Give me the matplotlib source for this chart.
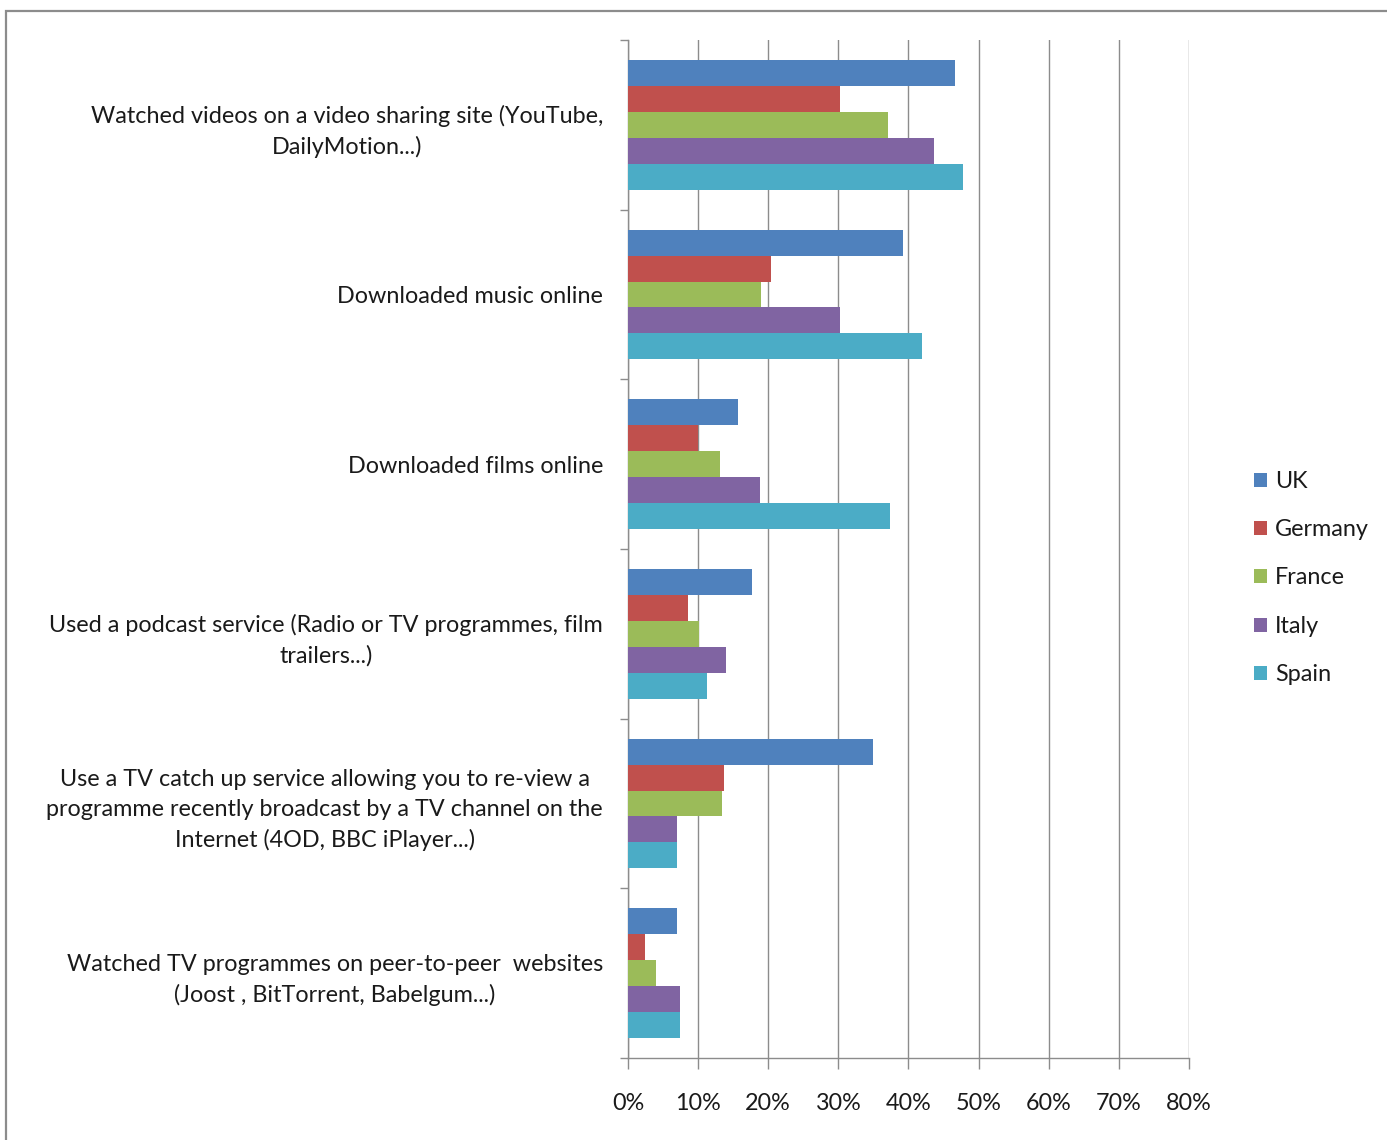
import matplotlib
matplotlib.use("Agg")
import matplotlib.pyplot as plt
import numpy as np
from matplotlib.patches import Rectangle
from matplotlib.ticker import FuncFormatter

plt.rcParams['font.family'] = ['Lato', 'DejaVu Sans']

categories = [
    "Watched videos on a video sharing site (YouTube,\nDailyMotion...)",
    "Downloaded music online",
    "Downloaded films online",
    "Used a podcast service (Radio or TV programmes, film\ntrailers...)",
    "Use a TV catch up service allowing you to re-view a\nprogramme recently broadcast by a TV channel on the\nInternet (4OD, BBC iPlayer...)",
    "Watched TV programmes on peer-to-peer  websites\n(Joost , BitTorrent, Babelgum...)",
]
countries = ["UK", "Germany", "France", "Italy", "Spain"]
colors = ["#4F81BD", "#C0504D", "#9BBB59", "#8064A2", "#4BACC6"]

uk      = [46.6, 39.2, 15.7, 17.7, 35.0, 7.0]
germany = [30.2, 20.4, 10.0, 8.6, 13.7, 2.4]
france  = [37.1, 19.0, 13.1, 10.1, 13.4, 4.0]
italy   = [43.6, 30.2, 18.8, 14.0, 7.0, 7.4]
spain   = [47.8, 41.9, 37.4, 11.3, 7.0, 7.4]
series = [uk, germany, france, italy, spain]

W, H = 1387, 1140
fs = 16.8
fig = plt.figure(figsize=(W / 100, H / 100), dpi=100)
fig.patch.set_facecolor("white")

# outer frame
fig.patches.append(Rectangle((6 / W, -0.1), 1.2, 1 - 11 / H + 0.1, transform=fig.transFigure,
                             fill=False, edgecolor="#8c8c8c", linewidth=1.6, zorder=0))

ax = fig.add_axes([628 / W, 1 - 1058 / H, (1189 - 628) / W, (1058 - 40) / H])

n = len(categories)
bar_h = 0.153
y = np.arange(n)
for i, (vals, c, name) in enumerate(zip(series, colors, countries)):
    ax.barh(y - 2 * bar_h + i * bar_h, vals, height=bar_h, color=c, label=name, zorder=3)

ax.set_xlim(0, 80)
ax.set_ylim(n - 0.5, -0.5)
ax.set_xticks(np.arange(0, 81, 10))
ax.xaxis.set_major_formatter(FuncFormatter(lambda v, p: f"{int(v)}%"))
ax.grid(axis="x", color="#8c8c8c", linewidth=1.0, zorder=0)
ax.set_axisbelow(True)

ax.set_yticks(y)
ax.set_yticklabels(categories, fontsize=fs, color="#1a1a1a", linespacing=1.52)
for lbl in ax.get_yticklabels():
    lbl.set_multialignment("center")
ax.set_yticks(np.arange(-0.5, n, 1.0), minor=True)
ax.tick_params(axis="y", which="major", length=0, pad=18)
ax.tick_params(axis="y", which="minor", length=6, color="#8c8c8c", width=1.0)
ax.tick_params(axis="x", length=8, color="#8c8c8c", width=1.0, labelsize=fs,
               labelcolor="#1a1a1a", pad=17)

for s in ["top", "right"]:
    ax.spines[s].set_visible(False)
for s in ["left", "bottom"]:
    ax.spines[s].set_color("#8c8c8c")
    ax.spines[s].set_linewidth(1.0)

leg = fig.legend(loc="center left", bbox_to_anchor=(1233 / W, 1 - 578 / H), frameon=False,
                 fontsize=fs, handlelength=0.55, handleheight=0.55, handletextpad=0.35,
                 labelspacing=1.17, labelcolor="#1a1a1a")

fig.savefig("out.png", dpi=100, facecolor="white")
